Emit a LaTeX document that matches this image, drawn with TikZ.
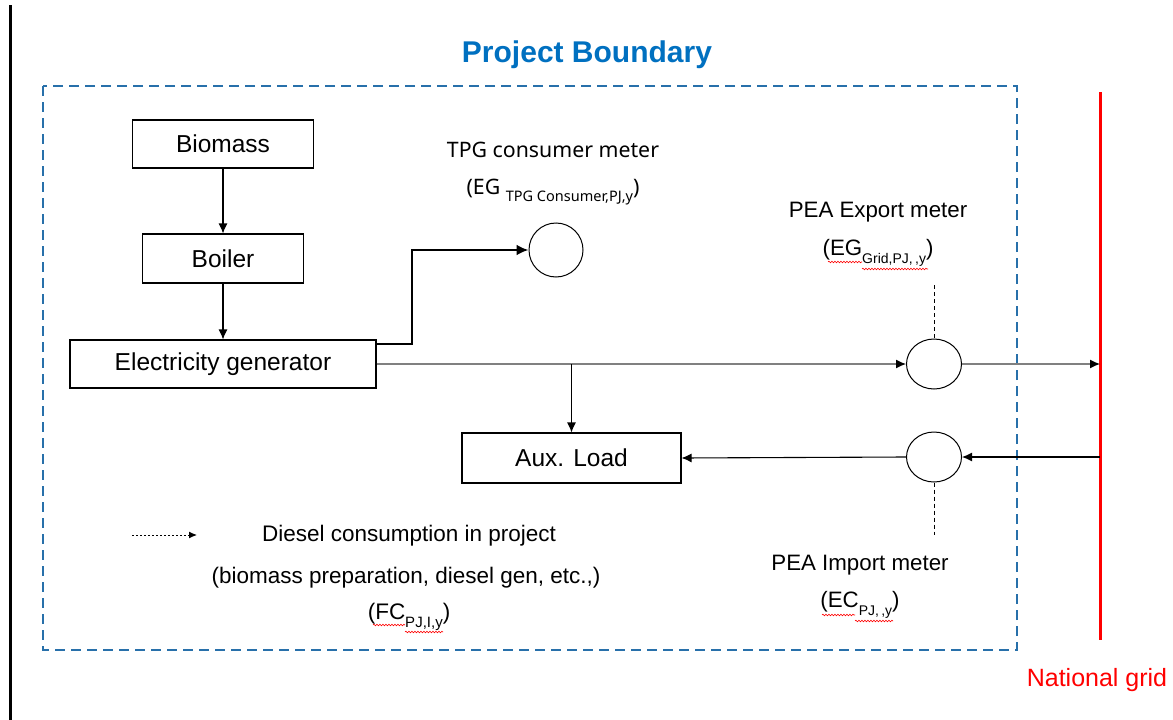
\documentclass[tikz,border=0pt]{standalone}
\usepackage{fontspec}
\setmainfont{Liberation Sans}
\newfontfamily\tahomaish{Noto Sans}
\usetikzlibrary{arrows.meta,decorations.pathmorphing,calc,shapes.geometric}
\definecolor{bndblue}{RGB}{40,112,170}
\definecolor{ttlblue}{RGB}{0,112,192}
\definecolor{gridred}{RGB}{255,0,0}
\newcommand\fsz[1]{\fontsize{#1}{#1}\selectfont}
\newcommand\lowsub[2]{\raisebox{-0.35em}{\fsz{#1}#2}}
\begin{document}
\begin{tikzpicture}[x=1pt,y=-1pt,
  box/.style={draw, line width=1.1pt, inner sep=0pt, font=\fsz{24.5}},
  meter/.style={draw, ellipse, line width=1pt, inner sep=0pt, minimum width=55pt, minimum height=50pt},
  flow/.style={line width=1.1pt, -{Latex[length=10pt,width=9pt,black]}},
  graylink/.style={line width=1.2pt, draw=black!50, -{Latex[length=10pt,width=9pt,black]}},
  thickflow/.style={line width=2.6pt, -{Latex[length=12pt,width=11pt]}},
  meterlead/.style={line width=0.9pt, dash pattern=on 4pt off 3pt},
  lbl/.style={font=\fsz{22.5}, align=center, inner sep=0pt},
  squig/.style={draw=red, line width=0.6pt, decorate, decoration={snake, segment length=3pt, amplitude=0.8pt}}
]
\useasboundingbox (0,0) rectangle (1173,720);
% left margin line
\coordinate (l1) at (10,5);
\coordinate (l2) at (10,720);
\draw[line width=3pt] (l1) -- (l2);
% project boundary
\node[font=\fsz{30}\bfseries, text=ttlblue] (title) at (587,55) {Project Boundary};
\coordinate (bnw) at (43,86);
\coordinate (bse) at (1017,650);
\draw[bndblue, line width=2.5pt, dash pattern=on 10pt off 6pt] (bnw) rectangle (bse);
% national grid
\coordinate (gtop) at (1100,92);
\coordinate (gbot) at (1100,640);
\draw[gridred, line width=3pt] (gtop) -- (gbot);
\node[text=gridred, font=\fsz{25}] (ngrid) at (1097,680) {National grid};
% boxes
\node[box, minimum width=181pt, minimum height=48pt] (bio) at (223,144) {Biomass};
\node[box, minimum width=161pt, minimum height=49pt] (boil) at (223,258.5) {Boiler};
\node[box, minimum width=306pt, minimum height=48pt] (gen) at (223,364) {Electricity generator};
\node[box, minimum width=219pt, minimum height=50pt] (aux) at (571.5,458) {Aux. Load};
% meters
\node[draw, circle, line width=1pt, minimum size=54pt, inner sep=0pt] (tpg) at (556,250) {};
\node[meter] (exp) at (934,364) {};
\node[meter] (imp) at (934,457) {};
% labels
\node[lbl, font=\tahomaish\fsz{21.3}] (tpgl) at (553,150) {TPG consumer meter};
\node[lbl, font=\tahomaish\fsz{21.3}] (tpgs) at (553,192) {(EG \lowsub{14.5}{TPG Consumer,PJ,y})};
\node[lbl, font=\fsz{22.3}] (expl) at (878,212) {PEA Export meter};
\node[lbl, font=\fsz{22.3}] (exps) at (878,253) {(EG\lowsub{14}{Grid,PJ,\,,y})};
\node[lbl, font=\fsz{22.3}] (impl) at (860,565) {PEA Import meter};
\node[lbl, font=\fsz{22.3}] (imps) at (860,605) {(EC\lowsub{14}{PJ,\,,y})};
\node[lbl] (dies1) at (409,536) {Diesel consumption in project};
\node[lbl] (dies2) at (406,578) {(biomass preparation, diesel gen, etc.,)};
\node[lbl] (dies3) at (409,617) {(FC\lowsub{15}{PJ,I,y})};
% spell-check squiggles
\draw[squig] (828,262) -- (862,262);
\draw[squig] (862,269) -- (928,269);
\draw[squig] (822,615) -- (855,615);
\draw[squig] (855,621) -- (893,621);
\draw[squig] (373,625) -- (405,625);
\draw[squig] (405,632) -- (443,632);
% connectors
\draw[flow] (bio) -- (boil);
\draw[flow] (boil) -- (gen);
\coordinate (t1) at (412,344);
\draw[thickflow] (gen.east |- t1) -- (t1) |- (tpg.west);
\draw[graylink] (gen.east) -- (exp.west);
\coordinate (jn) at (aux.north |- gen.east);
\draw[flow] (jn) -- (aux.north);
\coordinate (gx) at (1100,364);
\draw[graylink] (exp.east) -- (gx);
\coordinate (gi) at (1100,457);
\draw[flow] (gi) -- (imp.east);
\draw[flow] (imp.west) -- (aux.east);
\coordinate (dtop) at (934,285);
\coordinate (dbot) at (934,535);
\draw[meterlead] (dtop) -- (exp.north);
\draw[meterlead] (imp.south) -- (dbot);
% legend
\coordinate (lg1) at (132,535);
\coordinate (lg2) at (197,535);
\draw[line width=1pt, dash pattern=on 2pt off 2pt, -{Latex[length=8pt,width=7pt]}] (lg1) -- (lg2);
\end{tikzpicture}
\end{document}
